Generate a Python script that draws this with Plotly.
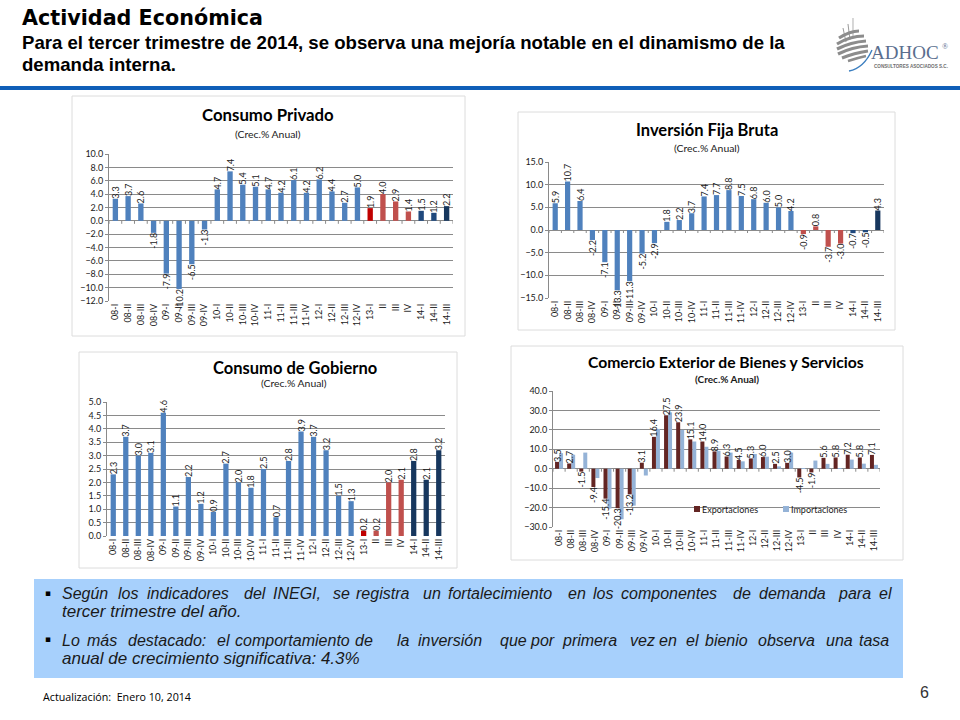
import plotly.graph_objects as go

W, H = 960, 720

periods = ["08-I","08-II","08-III","08-IV","09-I","09-II","09-III","09-IV",
           "10-I","10-II","10-III","10-IV","11-I","11-II","11-III","11-IV",
           "12-I","12-II","12-III","12-IV","13-I","II","III","IV",
           "14-I","14-II","14-III"]

consumo_privado = [3.3,3.7,2.6,-1.8,-7.9,-10.2,-6.5,-1.3,4.7,7.4,5.4,5.1,4.7,4.2,6.1,4.2,
                   6.2,4.4,2.7,5.0,1.9,4.0,2.9,1.4,1.5,1.2,2.2]
inversion_fija = [5.9,10.7,6.4,-2.2,-7.1,-13.3,-11.3,-5.2,-2.9,1.8,2.2,3.7,7.4,7.7,8.8,7.5,
                  6.8,6.0,5.0,4.2,-0.9,0.8,-3.7,-3.0,-0.7,-0.5,4.3]
consumo_gobierno = [2.3,3.7,3.0,3.1,4.6,1.1,2.2,1.2,0.9,2.7,2.0,1.8,2.5,0.7,2.8,3.9,
                    3.7,3.2,1.5,1.3,0.2,0.2,2.0,2.1,2.8,2.1,3.2]
exportaciones = [3.5,2.7,-1.5,-9.4,-15.4,-20.3,-13.2,3.1,16.4,27.5,23.9,15.1,14.0,8.9,6.3,4.5,
                 5.3,6.0,2.5,3.0,-4.5,-1.9,5.6,5.8,7.2,5.8,7.1]
importaciones = [8.0,7.2,8.3,-4.8,-20.5,-26.0,-19.0,-3.5,20.5,29.0,20.0,14.0,11.3,9.2,8.3,3.8,
                 7.6,6.2,1.2,8.3,0.2,4.2,2.5,0.3,4.7,2.6,2.0]

BLUE, RED, DARKRED, NAVY, MID = "#4F81BD", "#C0504D", "#C00000", "#17375E", "#1F497D"
colors_a = [BLUE]*20 + [DARKRED, RED, RED, RED, MID, MID, NAVY]
colors_b = [BLUE]*20 + [RED, RED, RED, RED, MID, MID, NAVY]
colors_c = [BLUE]*20 + [DARKRED, RED, RED, RED, NAVY, NAVY, NAVY]

CHART_FONT = "Lato"
TEXT = "#1a1a1a"
GRID = "#8a8a8a"
BODY = "Liberation Sans"


def px(x):
    return x / W


def py(y):
    return 1 - y / H


fig = go.Figure()
annotations = []
shapes = []


def note(text, x, y, size, family=CHART_FONT, color=TEXT, anchor="center", bold=False, italic=False):
    annotations.append(dict(
        text=f"<b>{text}</b>" if bold else (f"<i>{text}</i>" if italic else text),
        x=px(x - 2 if anchor == "left" else x), y=py(y), xref="paper", yref="paper",
        xanchor=anchor, yanchor="middle", showarrow=False, align="left",
        font=dict(size=size, family=family, color=color),
    ))


def rect(x0, y0, x1, y1, fill, line=None):
    shapes.append(dict(type="rect", xref="paper", yref="paper", layer="below",
                       x0=px(x0), x1=px(x1), y0=py(y0), y1=py(y1),
                       fillcolor=fill, line=dict(width=1 if line else 0, color=line or fill)))


def setup_axes(i, box, yrange, dtick):
    suffix = "" if i == 1 else str(i)
    l, t, r, b = box
    fig.layout["xaxis" + suffix] = dict(
        domain=[px(l), px(r)], anchor="y" + suffix, type="category",
        categoryorder="array", categoryarray=periods, range=[-0.5, 26.5],
        tickmode="array", tickvals=periods, ticktext=periods,
        tickangle=-90, tickfont=dict(size=9, family=CHART_FONT, color=TEXT),
        showgrid=False, showline=False, zeroline=False, ticks="", fixedrange=True,
    )
    fig.layout["yaxis" + suffix] = dict(
        domain=[py(b), py(t)], anchor="x" + suffix, range=yrange, dtick=dtick,
        tick0=yrange[0], tickformat=".1f", tickfont=dict(size=9, family=CHART_FONT, color=TEXT),
        showgrid=True, gridcolor=GRID, gridwidth=1, showline=True, linecolor=GRID, linewidth=1,
        ticks="outside", ticklen=3, tickcolor=GRID, zeroline=yrange[0] < 0, zerolinecolor=GRID,
        zerolinewidth=1, fixedrange=True,
    )
    # tick marks on the category axis, sitting on the zero line as in a spreadsheet chart
    unit = (yrange[1] - yrange[0]) / (b - t)
    for k in range(28):
        shapes.append(dict(type="line", xref="x" + suffix, yref="y" + suffix,
                           x0=k - 0.5, x1=k - 0.5, y0=0, y1=-3 * unit,
                           line=dict(color=GRID, width=1)))


def single_bars(i, values, colors):
    suffix = "" if i == 1 else str(i)
    fig.add_trace(go.Bar(
        x=periods, y=values, xaxis="x" + suffix, yaxis="y" + suffix,
        width=0.42, marker=dict(color=colors, line=dict(width=0)),
        text=[f"{v:.1f}" for v in values], textposition="outside", textangle=-90,
        textfont=dict(size=9, family=CHART_FONT, color=TEXT),
        cliponaxis=False, constraintext="none", showlegend=False, hoverinfo="skip",
    ))


# cards
rect(72, 96, 465, 336, "white", "#DCDCDC")
rect(518, 112, 895, 330, "white", "#DCDCDC")
rect(79, 352, 457, 568, "white", "#DCDCDC")
rect(511, 346, 903, 560, "white", "#DCDCDC")

setup_axes(1, (109, 154, 453, 301), [-12, 10], 2)
single_bars(1, consumo_privado, colors_a)
setup_axes(2, (549, 162, 884, 298), [-15, 15], 5)
single_bars(2, inversion_fija, colors_b)
setup_axes(3, (107, 402, 445, 536), [0, 5], 0.5)
single_bars(3, consumo_gobierno, colors_c)
setup_axes(4, (553, 391, 880, 527), [-30, 40], 10)

fig.add_trace(go.Bar(
    x=periods, y=importaciones, xaxis="x4", yaxis="y4", name="Importaciones", showlegend=False,
    width=0.33, offset=0.0, marker=dict(color="#95B3D7", line=dict(width=0)),
    hoverinfo="skip",
))
fig.add_trace(go.Bar(
    x=periods, y=exportaciones, xaxis="x4", yaxis="y4", name="Exportaciones", showlegend=False,
    width=0.33, offset=-0.33, marker=dict(color="#632523", line=dict(width=0)),
    text=[f"{v:.1f}" for v in exportaciones], textposition="outside", textangle=-90,
    textfont=dict(size=9, family=CHART_FONT, color=TEXT),
    cliponaxis=False, constraintext="none", hoverinfo="skip",
))

# legend of the trade chart
shapes.append(dict(type="rect", xref="paper", yref="paper", x0=px(694), x1=px(700), y0=py(512), y1=py(506),
                   fillcolor="#632523", line=dict(width=0)))
shapes.append(dict(type="rect", xref="paper", yref="paper", x0=px(783), x1=px(789), y0=py(512), y1=py(506),
                   fillcolor="#95B3D7", line=dict(width=0)))
note("Exportaciones", 702, 509, 9, anchor="left")
note("Importaciones", 791, 509, 9, anchor="left")

# chart titles
note("Consumo Privado", 268, 115, 16.8, bold=True, color="#000000")
note("(Crec.% Anual)", 268, 134, 10.4)
note("Inversión Fija Bruta", 707, 130, 16.5, bold=True, color="#000000")
note("(Crec.% Anual)", 707, 148, 10.4)
note("Consumo de Gobierno", 295, 368, 16.5, bold=True, color="#000000")
note("(Crec.% Anual)", 294, 383, 10.4)
note("Comercio Exterior de Bienes y Servicios", 726, 362, 15.7, bold=True, color="#000000")
note("(Crec.% Anual)", 727, 379, 10, bold=True)

# page header
note("Actividad Económica", 22, 18, 20.7, family="DejaVu Sans", anchor="left", bold=True, color="#000000")
note("Para el tercer trimestre de 2014, se observa una mejoría notable en el dinamismo de la",
     22, 42, 18.6, family=BODY, anchor="left", bold=True, color="#000000")
note("demanda interna.", 22, 64, 18.6, family=BODY, anchor="left", bold=True, color="#000000")
rect(0, 86, 960, 90, "#0F5FB8")

# logo
logo_paths = [
    ("M 843 28 L 846 42", "#9a9a9a", 1), ("M 848 24 L 850 40", "#9a9a9a", 1), ("M 853 18 L 853 38", "#b0b0b0", 1),
    ("M 839 38 Q 850 31 859 31", "#8c8c8c", 3.2), ("M 837 44 Q 850 36 864 36", "#8c8c8c", 3.2),
    ("M 837 49 Q 851 42 866 41", "#8c8c8c", 3.2), ("M 838 54 Q 852 47 868 46", "#8c8c8c", 3.2),
    ("M 842 58 Q 854 53 868 51", "#8c8c8c", 3.0), ("M 848 61 Q 857 58 866 56", "#8c8c8c", 2.5),
    ("M 849 71 Q 864 68 872 50", "#3C7FC0", 1.4),
]
for d, c, w in logo_paths:
    conv = []
    n = 0
    for tok in d.split():
        if tok in ("M", "L", "Q"):
            conv.append(tok)
        else:
            conv.append(f"{px(float(tok)):.5f}" if n % 2 == 0 else f"{py(float(tok)):.5f}")
            n += 1
    shapes.append(dict(type="path", xref="paper", yref="paper", path=" ".join(conv),
                       line=dict(color=c, width=w)))
note("ADHOC", 871, 53, 19, family="Liberation Serif", anchor="left", color="#5A6E8E")
note("®", 942, 46, 8, family="Liberation Serif", anchor="left", color="#5A6E8E")
note("CONSULTORES ASOCIADOS S.C.", 874, 66, 4.6, family=BODY, anchor="left", bold=True, color="#6E6E6E")

# commentary box
rect(34, 579, 903, 678, "#A7D0FC")
note("▪", 45, 593, 9, family="DejaVu Sans", anchor="left", color="#000000")
note("▪", 45, 639, 9, family="DejaVu Sans", anchor="left", color="#000000")
line_1 = [("Según",62),("los",118),("indicadores",147),("del",244),("INEGI,",273),("se",333),("registra",356),
          ("un",423),("fortalecimiento",448),("en",568),("los",593),("componentes",621),("de",733),
          ("demanda",759),("para",838),("el",879)]
line_3 = [("Lo",62),("más",87),("destacado:",128),("el",217),("comportamiento",235),("de",355),("la",397),
          ("inversión",418),("que",500),("por",530),("primera",562),("vez",630),("en",659),("el",686),
          ("bienio",705),("observa",758),("una",826),("tasa",859)]
for word, x in line_1:
    note(word, x, 593, 16, family=BODY, anchor="left", italic=True)
note("tercer trimestre del año.", 62, 611, 17, family=BODY, anchor="left", italic=True)
for word, x in line_3:
    note(word, x, 640, 16, family=BODY, anchor="left", italic=True)
note("anual de crecimiento significativa: 4.3%", 62, 658, 17, family=BODY, anchor="left", italic=True)

# footer
note("Actualización:  Enero 10, 2014", 43, 697, 10.7, family="Open Sans", anchor="left", color="#000000")
note("6", 920, 692, 16, family=BODY, anchor="left", color="#333333")

fig.update_layout(
    width=W, height=H, autosize=False, margin=dict(l=0, r=0, t=0, b=0, autoexpand=False),
    paper_bgcolor="white", plot_bgcolor="rgba(0,0,0,0)", barmode="overlay", showlegend=False,
    annotations=annotations, shapes=shapes,
)

fig.write_html("out.html", config={"displayModeBar": False},
               post_script="document.body.style.margin='0';document.body.style.overflow='hidden';")
